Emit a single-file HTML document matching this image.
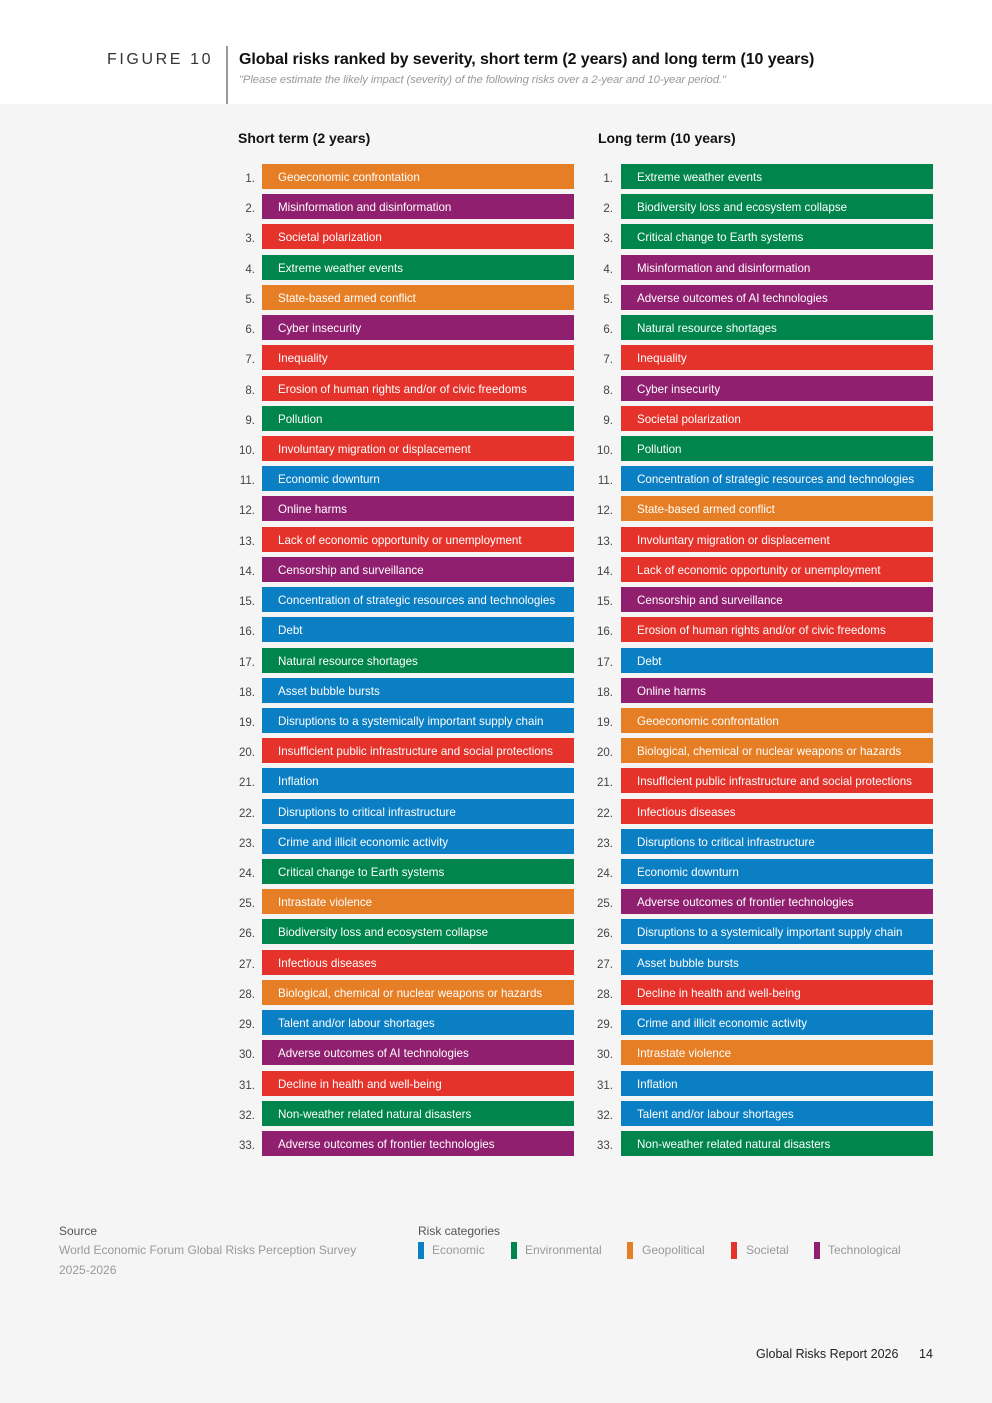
<!DOCTYPE html>
<html><head><meta charset="utf-8"><style>
*{margin:0;padding:0;box-sizing:border-box}
body{width:992px;height:1403px;background:#f5f5f5;font-family:"Liberation Sans",sans-serif;position:relative;overflow:hidden}
.hdr{position:absolute;left:0;top:0;width:992px;height:104px;background:#fff}
.vl{position:absolute;left:226px;top:46px;width:2px;height:58px;background:#999}
.fig{position:absolute;left:107px;top:51px;font-size:16px;letter-spacing:2.6px;color:#333}
.title{position:absolute;left:239px;top:51px;font-size:16px;font-weight:bold;color:#111;letter-spacing:-0.1px}
.sub{position:absolute;left:239px;top:74px;font-size:11.3px;font-style:italic;color:#999;letter-spacing:-0.1px}
.h{position:absolute;top:130px;font-size:14px;font-weight:bold;color:#111}
.col{position:absolute;top:164px}
.r{position:relative;height:30.22px}
.n{position:absolute;width:30px;text-align:right;font-size:11.5px;color:#444;top:9px}
.b{position:absolute;height:25px;width:312px;top:0;color:#fff;font-size:11.6px;line-height:27px;padding-left:16px;white-space:nowrap}
.o{background:#e67e25}.p{background:#911f6f}.rd{background:#e5322b}.g{background:#00864c}.bl{background:#0b7fc4}
.L .n{left:-37px}.L .b{left:0}
.R .n{left:-38px}.R .b{left:0}
.ft{position:absolute;font-size:12px;color:#999}
.lg{position:absolute;top:1242px;width:6px;height:17px}
</style></head><body>
<div class="hdr"></div><div class="vl"></div>
<div class="fig">FIGURE 10</div>
<div class="title">Global risks ranked by severity, short term (2 years) and long term (10 years)</div>
<div class="sub">"Please estimate the likely impact (severity) of the following risks over a 2-year and 10-year period."</div>
<div class="h" style="left:238px">Short term (2 years)</div>
<div class="h" style="left:598px">Long term (10 years)</div>
<div class="col L" style="left:262px">
<div class="r"><span class="n">1.</span><div class="b o">Geoeconomic confrontation</div></div>
<div class="r"><span class="n">2.</span><div class="b p">Misinformation and disinformation</div></div>
<div class="r"><span class="n">3.</span><div class="b rd">Societal polarization</div></div>
<div class="r"><span class="n">4.</span><div class="b g">Extreme weather events</div></div>
<div class="r"><span class="n">5.</span><div class="b o">State-based armed conflict</div></div>
<div class="r"><span class="n">6.</span><div class="b p">Cyber insecurity</div></div>
<div class="r"><span class="n">7.</span><div class="b rd">Inequality</div></div>
<div class="r"><span class="n">8.</span><div class="b rd">Erosion of human rights and/or of civic freedoms</div></div>
<div class="r"><span class="n">9.</span><div class="b g">Pollution</div></div>
<div class="r"><span class="n">10.</span><div class="b rd">Involuntary migration or displacement</div></div>
<div class="r"><span class="n">11.</span><div class="b bl">Economic downturn</div></div>
<div class="r"><span class="n">12.</span><div class="b p">Online harms</div></div>
<div class="r"><span class="n">13.</span><div class="b rd">Lack of economic opportunity or unemployment</div></div>
<div class="r"><span class="n">14.</span><div class="b p">Censorship and surveillance</div></div>
<div class="r"><span class="n">15.</span><div class="b bl">Concentration of strategic resources and technologies</div></div>
<div class="r"><span class="n">16.</span><div class="b bl">Debt</div></div>
<div class="r"><span class="n">17.</span><div class="b g">Natural resource shortages</div></div>
<div class="r"><span class="n">18.</span><div class="b bl">Asset bubble bursts</div></div>
<div class="r"><span class="n">19.</span><div class="b bl">Disruptions to a systemically important supply chain</div></div>
<div class="r"><span class="n">20.</span><div class="b rd">Insufficient public infrastructure and social protections</div></div>
<div class="r"><span class="n">21.</span><div class="b bl">Inflation</div></div>
<div class="r"><span class="n">22.</span><div class="b bl">Disruptions to critical infrastructure</div></div>
<div class="r"><span class="n">23.</span><div class="b bl">Crime and illicit economic activity</div></div>
<div class="r"><span class="n">24.</span><div class="b g">Critical change to Earth systems</div></div>
<div class="r"><span class="n">25.</span><div class="b o">Intrastate violence</div></div>
<div class="r"><span class="n">26.</span><div class="b g">Biodiversity loss and ecosystem collapse</div></div>
<div class="r"><span class="n">27.</span><div class="b rd">Infectious diseases</div></div>
<div class="r"><span class="n">28.</span><div class="b o">Biological, chemical or nuclear weapons or hazards</div></div>
<div class="r"><span class="n">29.</span><div class="b bl">Talent and/or labour shortages</div></div>
<div class="r"><span class="n">30.</span><div class="b p">Adverse outcomes of AI technologies</div></div>
<div class="r"><span class="n">31.</span><div class="b rd">Decline in health and well-being</div></div>
<div class="r"><span class="n">32.</span><div class="b g">Non-weather related natural disasters</div></div>
<div class="r"><span class="n">33.</span><div class="b p">Adverse outcomes of frontier technologies</div></div>
</div>
<div class="col R" style="left:621px">
<div class="r"><span class="n">1.</span><div class="b g">Extreme weather events</div></div>
<div class="r"><span class="n">2.</span><div class="b g">Biodiversity loss and ecosystem collapse</div></div>
<div class="r"><span class="n">3.</span><div class="b g">Critical change to Earth systems</div></div>
<div class="r"><span class="n">4.</span><div class="b p">Misinformation and disinformation</div></div>
<div class="r"><span class="n">5.</span><div class="b p">Adverse outcomes of AI technologies</div></div>
<div class="r"><span class="n">6.</span><div class="b g">Natural resource shortages</div></div>
<div class="r"><span class="n">7.</span><div class="b rd">Inequality</div></div>
<div class="r"><span class="n">8.</span><div class="b p">Cyber insecurity</div></div>
<div class="r"><span class="n">9.</span><div class="b rd">Societal polarization</div></div>
<div class="r"><span class="n">10.</span><div class="b g">Pollution</div></div>
<div class="r"><span class="n">11.</span><div class="b bl">Concentration of strategic resources and technologies</div></div>
<div class="r"><span class="n">12.</span><div class="b o">State-based armed conflict</div></div>
<div class="r"><span class="n">13.</span><div class="b rd">Involuntary migration or displacement</div></div>
<div class="r"><span class="n">14.</span><div class="b rd">Lack of economic opportunity or unemployment</div></div>
<div class="r"><span class="n">15.</span><div class="b p">Censorship and surveillance</div></div>
<div class="r"><span class="n">16.</span><div class="b rd">Erosion of human rights and/or of civic freedoms</div></div>
<div class="r"><span class="n">17.</span><div class="b bl">Debt</div></div>
<div class="r"><span class="n">18.</span><div class="b p">Online harms</div></div>
<div class="r"><span class="n">19.</span><div class="b o">Geoeconomic confrontation</div></div>
<div class="r"><span class="n">20.</span><div class="b o">Biological, chemical or nuclear weapons or hazards</div></div>
<div class="r"><span class="n">21.</span><div class="b rd">Insufficient public infrastructure and social protections</div></div>
<div class="r"><span class="n">22.</span><div class="b rd">Infectious diseases</div></div>
<div class="r"><span class="n">23.</span><div class="b bl">Disruptions to critical infrastructure</div></div>
<div class="r"><span class="n">24.</span><div class="b bl">Economic downturn</div></div>
<div class="r"><span class="n">25.</span><div class="b p">Adverse outcomes of frontier technologies</div></div>
<div class="r"><span class="n">26.</span><div class="b bl">Disruptions to a systemically important supply chain</div></div>
<div class="r"><span class="n">27.</span><div class="b bl">Asset bubble bursts</div></div>
<div class="r"><span class="n">28.</span><div class="b rd">Decline in health and well-being</div></div>
<div class="r"><span class="n">29.</span><div class="b bl">Crime and illicit economic activity</div></div>
<div class="r"><span class="n">30.</span><div class="b o">Intrastate violence</div></div>
<div class="r"><span class="n">31.</span><div class="b bl">Inflation</div></div>
<div class="r"><span class="n">32.</span><div class="b bl">Talent and/or labour shortages</div></div>
<div class="r"><span class="n">33.</span><div class="b g">Non-weather related natural disasters</div></div>
</div>
<div class="ft" style="left:59px;top:1224px;color:#555">Source</div>
<div class="ft" style="left:59px;top:1243px">World Economic Forum Global Risks Perception Survey</div>
<div class="ft" style="left:59px;top:1263px">2025-2026</div>
<div class="ft" style="left:418px;top:1224px;color:#555">Risk categories</div>
<div class="lg bl" style="left:418px"></div><div class="ft" style="left:432px;top:1243px">Economic</div>
<div class="lg g" style="left:511px"></div><div class="ft" style="left:525px;top:1243px">Environmental</div>
<div class="lg o" style="left:627px"></div><div class="ft" style="left:642px;top:1243px">Geopolitical</div>
<div class="lg rd" style="left:731px"></div><div class="ft" style="left:746px;top:1243px">Societal</div>
<div class="lg p" style="left:814px"></div><div class="ft" style="left:828px;top:1243px">Technological</div>
<div class="ft" style="left:756px;top:1347px;color:#222;font-size:12.5px">Global Risks Report 2026</div>
<div class="ft" style="left:919px;top:1347px;color:#222;font-size:12.5px">14</div>
</body></html>
